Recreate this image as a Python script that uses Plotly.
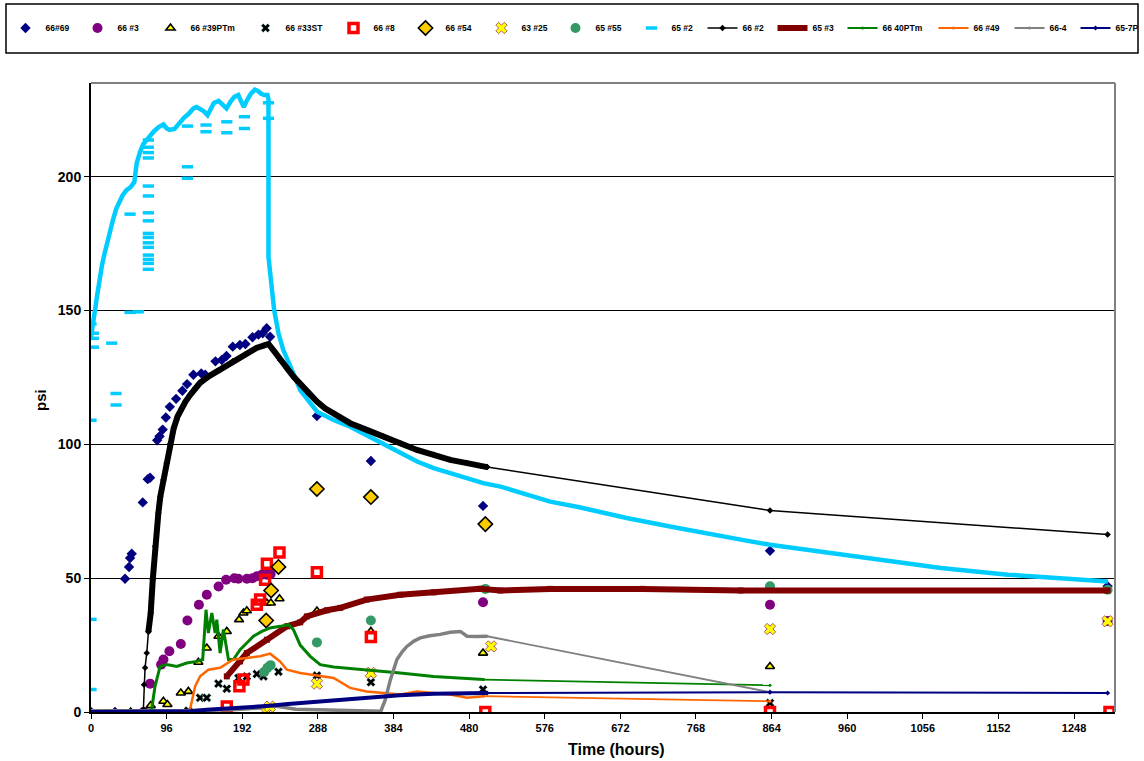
import plotly.graph_objects as go

FONT = "Arial, 'Liberation Sans', sans-serif"

# ---------------- data (time in hours, pressure in psi) ----------------
# 66#69 spot readings
t_66_69 = [0, 30.5, 43.2, 48.3, 49.6, 51.7, 65.7, 72, 75, 84, 87, 91, 95, 100, 108, 116, 122, 130,
           140, 145, 158, 166, 172, 180, 189, 196, 205, 212.6, 218, 223, 227.4, 286.8, 355.3,
           497.7, 862, 1290.6]
p_66_69 = [0, 0, 49.8, 54.2, 57.5, 59.1, 78.3, 87, 87.5, 101.5, 103, 105.5, 110, 114, 117, 120,
           122.5, 126, 126.5, 126, 131, 131.5, 133, 136.5, 137.1, 137.5, 140, 141, 141.5, 143.4,
           140.2, 110.6, 93.8, 77, 60.2, 47]

# 66 #3
t_66_3 = [66.7, 75, 89, 92, 99.5, 114, 122.4, 137, 147, 162, 171.5, 182, 187, 198, 205, 210.5,
          217, 223, 228, 497.7, 862, 1290.6]
p_66_3 = [0, 10.6, 17.7, 19.6, 22.7, 25.4, 34.2, 40.1, 43.8, 46.9, 49.4, 50, 49.8, 49.8, 50,
          50.7, 51.3, 51.3, 51.5, 41, 40.1, 34]

# 66 #39PTm
t_66_39 = [50.4, 75.8, 91.9, 97, 114, 123.6, 136.3, 147, 161.8, 172.4, 188, 193.5, 197.8, 223.3,
           228.3, 239.3, 286.8, 355.3, 497.7, 862]
p_66_39 = [0, 2.4, 4, 2.8, 7.1, 7.7, 18.6, 23.9, 28.3, 30.1, 34.5, 37, 37.8, 40.7, 40.7, 42.3,
           37.7, 30.1, 22, 17]

# 66 #33ST
t_66_33 = [123.6, 138.5, 147, 161.8, 172.4, 187.2, 197.8, 210.5, 219, 238, 286.8, 355.3, 497.7, 862]
p_66_33 = [0.5, 5.3, 5.3, 10.6, 8.7, 12.7, 13.3, 14.2, 13.3, 15, 13.6, 11.1, 8.4, 3.4]

# 66 #8
t_66_8 = [172.4, 188.4, 193.5, 210.5, 214.7, 221, 223.3, 239.3, 286.8, 355.3, 500.6, 862, 1293]
p_66_8 = [2.1, 9.6, 12.1, 40.1, 42, 49.4, 55.4, 59.6, 52.2, 28, 0, 0, 0]

# 66 #54
t_66_54 = [222.4, 228.7, 238, 286.8, 355.3, 500.6]
p_66_54 = [34.2, 45.4, 54.2, 83.3, 80.3, 70.2]

# 63 #25
t_63_25 = [222.4, 227, 286.8, 355.3, 508, 862, 1290.6]
p_63_25 = [0, 2, 10.6, 14.6, 24.5, 31, 33.9]

# 65 #55
t_65_55 = [220, 224, 228, 286.8, 355.3, 500.6, 862, 1290.6]
p_65_55 = [15, 16.5, 17.5, 26, 34.2, 46, 47, 45.7]

# 65 #2 continuous logger trace
t_65_2 = [0, 2, 5, 8, 11, 14, 17, 20, 24, 28, 32, 36, 40, 45, 50, 55, 58, 62, 66, 70, 75, 80, 86,
          92, 96, 100, 106, 112, 118, 124, 130, 134, 138, 143, 148, 152, 156, 162, 167, 172, 177,
          182, 187, 191, 194, 198, 203, 208, 212, 216, 220, 224, 225.3, 225.3, 227.5, 232.5, 238,
          244, 255, 265.6, 287, 308, 329, 350, 371, 393, 414, 435, 456, 477, 498, 520, 541, 562,
          583, 620, 680, 740, 800, 825, 862, 909, 994, 1079, 1164, 1248, 1291]
p_65_2 = [140, 145, 150, 156, 162, 167, 171, 175, 180, 184, 188, 191, 193, 195, 196, 198, 205, 209,
          212, 213.5, 215.5, 217, 218.5, 219.5, 218, 217.5, 217.8, 220, 222, 223.5, 225.5, 226,
          225.5, 224.5, 223, 225, 227.5, 228.3, 227, 225.5, 228, 229.8, 230.5, 228, 226, 228.5,
          231, 232.5, 232, 231, 230.5, 230.5, 229, 170, 162.6, 150.2, 141.5, 135.3, 127.8, 120.3,
          112.2, 109.1, 106.6, 103.5, 100.4, 96.7, 93.6, 91.1, 89.2, 87.4, 85.5, 84.2, 82.4, 80.5,
          78.6, 76.5, 72.5, 69, 65.5, 64.4, 62.5, 60.6, 56.9, 53.8, 51.3, 49.4, 48.8]
# 65 #2 scattered logger readings
t_65_2_pts = [0, 0, 0, 0, 3, 3, 3, 26.3, 31.8, 31.8, 49.6, 49.6, 60, 72.8, 72.8, 72.8, 72.8, 72.8,
              72.8, 72.8, 72.8, 72.8, 72.8, 72.8, 72.8, 72.8, 72.8, 72.8, 72.8, 122.4, 122.4, 122.4,
              146, 146, 172.4, 172.4, 194.8, 194.8, 225.3, 225.3]
p_65_2_pts = [145, 109, 34.6, 8.4, 141.5, 139.6, 136.3, 137.8, 119, 114.7, 186, 149.3, 149.5, 213.7,
              211, 209, 207, 196.5, 192.8, 186.5, 183.5, 178.8, 177.3, 175.3, 173.6, 170.7, 169.1,
              167.6, 165.4, 218.9, 203.7, 199.4, 219.3, 216.8, 220.5, 216.4, 222.4, 218, 227.6, 221.8]

# 66 #2
t_66_2_early = [0, 8, 18, 28, 38, 48, 58, 66.5, 67.3, 68.6, 70.8, 72.9]
p_66_2_early = [0, 0, 0, 0, 0, 0, 0, 0.9, 10.2, 16.5, 22, 30]
t_66_2_dense = [72.9, 75.8, 78.4, 81.3, 85.5, 88, 91.9, 96, 100, 105, 110, 115, 120, 126, 132,
                138.5, 150, 164, 180, 195, 210, 220, 225.3, 232, 240, 250, 258, 265.6, 276, 286.8,
                297, 308, 329, 350, 371.4, 392.6, 413.8, 435, 456, 477.4, 502.8]
p_66_2_dense = [30, 37, 49.4, 61.9, 74.3, 80.5, 86.7, 93, 100, 106, 110.5, 113.5, 116, 118.5, 121,
                123, 125.5, 127.8, 131, 133.5, 136, 137, 137.5, 135, 131.5, 128, 125, 122.5, 119,
                116, 113.5, 111.6, 107.9, 105.4, 102.9, 100.4, 97.9, 96.1, 94.2, 93, 91.5]
t_66_2_late = [502.8, 862, 1290.6]
p_66_2_late = [91.5, 75.3, 66.3]

# 65 #3
t_65_3 = [172.4, 189.3, 197.8, 223.3, 248.7, 265.6, 274, 299.5, 316.4, 350, 392.6, 435, 494,
          519.7, 583, 700, 824.7, 1290.6]
p_65_3 = [13.3, 18.9, 22, 27, 32, 33.5, 35.7, 38, 38.9, 42, 43.8, 44.7, 46, 45.4, 46, 46, 45.4, 45.4]

# 66 40PTm
t_66_40 = [77, 81.3, 87.7, 96.2, 108.9, 121.6, 134.3, 141.8, 146, 149, 153.4, 157.6, 159.7, 163.9,
           168.1, 174.5, 180.8, 189.3, 197.8, 206.2, 216.9, 227.4, 240, 250.7, 257, 265.6, 278.3,
           291, 308, 350, 392.6, 435, 498.5]
p_66_40 = [1, 9.6, 17, 17.7, 17, 18.3, 18.9, 19.6, 38.2, 29.5, 37, 29.5, 34.5, 22, 30.8, 19.6, 19.6,
           23.3, 25.8, 28.3, 30.1, 31.4, 32, 32.6, 30.8, 25, 20.8, 17.7, 16.8, 15.8, 14.6, 13.3, 12.1]
t_66_40_late = [498.5, 862]
p_66_40_late = [12.1, 10]

# 66 #49
t_66_49 = [125.8, 132.2, 138.5, 149, 163.9, 180.8, 197.8, 214.7, 227.4, 240, 248.7, 265.6, 286.8,
           308, 329, 350, 371.4, 392.6, 413.8, 435, 456, 477.4, 498.5]
p_66_49 = [1, 9.6, 13.3, 15.8, 16.5, 19.6, 20.2, 20.8, 21.8, 18.9, 15.8, 14.6, 13.6, 12.7, 9, 7.7,
           7.1, 6.5, 7.7, 7.1, 6.5, 5.3, 5.9]
t_66_49_late = [498.5, 862]
p_66_49_late = [5.9, 4]

# 66-4
t_66_4 = [0, 30, 60, 120, 180, 215, 225, 240, 260, 300, 340, 368, 373.6, 380, 388.4, 395, 401, 410,
          418, 430, 443.5, 456, 469, 477.4, 490, 502.8]
p_66_4 = [0.5, 0.5, 0.3, 0.5, 0.8, 1.5, 2.5, 2, 1, 0.8, 0.5, 0.3, 4.6, 12, 19.6, 22.5, 24.5, 26.5,
          27.7, 28.5, 29, 29.8, 30.1, 28.3, 28.2, 28.3]
t_66_4_late = [502.8, 862]
p_66_4_late = [28.3, 7.4]

# 65-7P
t_65_7 = [0, 30, 60, 100, 126, 147, 175, 200, 227, 250, 282, 310, 350, 392, 435, 477, 503]
p_65_7 = [0, 0, 0, 0.2, 0.3, 0.8, 1.2, 1.7, 2.3, 3, 3.8, 4.4, 5.5, 6.3, 6.8, 7, 7.1]
t_65_7_late = [503, 862, 1290.6]
p_65_7_late = [7.1, 7.4, 7.1]

x_ticks = list(range(0, 1249, 96))
y_ticks = [0, 50, 100, 150, 200]

# plot-area geometry in pixels, used to place legend entries in paper units
PL, PR, PT, PB = 91, 1115, 83, 712
PW, PH = PR - PL, PB - PT


def px_x(px):
    return (px - PL) / PW


def px_y(py):
    return (PB - py) / PH


# one legend per series so each key sits at its own spot along the top row
legend_key_x = {
    "66#69": 27, "66 #3": 99, "66 #39PTm": 172, "66 #33ST": 267, "66 #8": 355,
    "66 #54": 427, "63 #25": 503, "65 #55": 577, "65 #2": 653, "66 #2": 724,
    "65 #3": 794, "66 40PTm": 864, "66 #49": 955, "66-4": 1031, "65-7P": 1097,
}
legend_ids = {}
for i, nm in enumerate(legend_key_x):
    legend_ids[nm] = "legend" if i == 0 else f"legend{i + 1}"

# ---------------- figure ----------------
fig = go.Figure()


def pts(name, t, p, symbol, color, size, line_color=None, line_width=0, backing=None):
    if backing:
        # coloured square drawn behind the glyph
        fig.add_trace(go.Scatter(
            x=t, y=p, name=name, mode="markers", legendgroup=name, showlegend=False,
            marker=dict(symbol="square", color=backing, size=size - 3), hoverinfo="skip",
        ))
    fig.add_trace(go.Scatter(
        x=t, y=p, name=name, mode="markers", legendgroup=name, legend=legend_ids[name],
        marker=dict(symbol=symbol, color=color, size=size,
                    line=dict(color=line_color or color, width=line_width)),
    ))


def band(name, t, p, color, width):
    fig.add_trace(go.Scatter(
        x=t, y=p, name=name, mode="lines", legendgroup=name, showlegend=False,
        line=dict(color=color, width=width), hoverinfo="skip",
    ))


def lined(name, t, p, color, width, symbol, msize):
    fig.add_trace(go.Scatter(
        x=t, y=p, name=name, mode="lines+markers", legendgroup=name, legend=legend_ids[name],
        line=dict(color=color, width=width),
        marker=dict(symbol=symbol, color=color, size=msize),
    ))


pts("66#69", t_66_69, p_66_69, "diamond", "#000080", 8)
pts("66 #3", t_66_3, p_66_3, "circle", "#800080", 10)
pts("66 #39PTm", t_66_39, p_66_39, "triangle-up", "#FFFF00", 8, "#000000", 1.6)
pts("66 #33ST", t_66_33, p_66_33, "x", "#000000", 8, "#CCFFFF", 0.5, backing="#CCFFFF")
pts("66 #8", t_66_8, p_66_8, "square-open", "#FF0000", 9, "#FF0000", 3.5)
pts("66 #54", t_66_54, p_66_54, "diamond", "#FFCC00", 11, "#000000", 1.6)
pts("63 #25", t_63_25, p_63_25, "x", "#FFFF00", 10, "#993366", 0.8, backing="#993366")
pts("65 #55", t_65_55, p_65_55, "circle", "#339966", 10)

band("65 #2", t_65_2, p_65_2, "#00CCFF", 4.5)
fig.add_trace(go.Scatter(
    x=t_65_2_pts, y=p_65_2_pts, name="65 #2", mode="markers", legendgroup="65 #2",
    legend=legend_ids["65 #2"],
    marker=dict(symbol="line-ew", size=8, color="#00CCFF", line=dict(color="#00CCFF", width=3.5)),
))

band("66 #2", t_66_2_dense, p_66_2_dense, "#000000", 6)
lined("66 #2", t_66_2_early + t_66_2_dense + t_66_2_late,
      p_66_2_early + p_66_2_dense + p_66_2_late, "#000000", 1.5, "diamond", 5)

lined("65 #3", t_65_3, p_65_3, "#800000", 6, "square", 6)

band("66 40PTm", t_66_40, p_66_40, "#008000", 3)
lined("66 40PTm", t_66_40_late, p_66_40_late, "#008000", 1.8, "circle", 3)

band("66 #49", t_66_49, p_66_49, "#FF6600", 2.5)
lined("66 #49", t_66_49_late, p_66_49_late, "#FF6600", 1.8, "circle", 3)

band("66-4", t_66_4, p_66_4, "#808080", 3.5)
lined("66-4", t_66_4_late, p_66_4_late, "#808080", 1.8, "circle", 3)

band("65-7P", t_65_7, p_65_7, "#000080", 4)
lined("65-7P", t_65_7_late, p_65_7_late, "#000080", 2, "diamond", 4)

legend_font = dict(family=FONT, size=8.5, weight="bold", color="black")
legends = {}
for nm, cx in legend_key_x.items():
    legends[legend_ids[nm]] = dict(
        orientation="h", xanchor="left", yanchor="middle", font=legend_font,
        borderwidth=0, bgcolor="rgba(0,0,0,0)", itemwidth=30,
        xref="paper", yref="paper", x=px_x(cx - 21.5), y=px_y(28),
        itemclick=False, itemdoubleclick=False,
    )

fig.update_layout(
    width=1144, height=761,
    margin=dict(l=PL, r=1144 - PR, t=PT, b=761 - PB, autoexpand=False),
    paper_bgcolor="white", plot_bgcolor="white",
    font=dict(family=FONT, color="black"),
    showlegend=True,
    xaxis=dict(
        range=[0, 1300], tickvals=x_ticks, ticks="outside", ticklen=5, tickwidth=1,
        tickcolor="black", showline=True, linecolor="black", linewidth=2, showgrid=False,
        zeroline=False, tickfont=dict(family=FONT, size=11, weight="bold"),
    ),
    yaxis=dict(
        range=[0, 235], tickvals=y_ticks, ticks="outside", ticklen=5, tickwidth=1,
        tickcolor="black", showline=True, linecolor="black", linewidth=2, showgrid=True,
        gridcolor="black", gridwidth=1, zeroline=False,
        tickfont=dict(family=FONT, size=14, weight="bold"),
    ),
    shapes=[
        # plot-area border (top and right)
        dict(type="line", xref="paper", yref="paper", x0=0, x1=1, y0=1, y1=1,
             line=dict(color="#808080", width=2)),
        dict(type="line", xref="paper", yref="paper", x0=1, x1=1, y0=0, y1=1,
             line=dict(color="#808080", width=2)),
        # legend frame
        dict(type="rect", xref="paper", yref="paper", x0=px_x(6), x1=px_x(1138),
             y0=px_y(53), y1=px_y(4), line=dict(color="black", width=1.5),
             fillcolor="rgba(0,0,0,0)", layer="below"),
    ],
    annotations=[
        dict(text="Time (hours)", xref="paper", yref="paper", x=px_x(616), y=px_y(750),
             showarrow=False, font=dict(family=FONT, size=16, weight="bold"),
             xanchor="center", yanchor="middle"),
        dict(text="psi", xref="paper", yref="paper", x=px_x(40), y=px_y(400), textangle=-90,
             showarrow=False, font=dict(family=FONT, size=15, weight="bold"),
             xanchor="center", yanchor="middle"),
    ],
)
fig.update_layout(**legends)

fig.write_html("out.html")
